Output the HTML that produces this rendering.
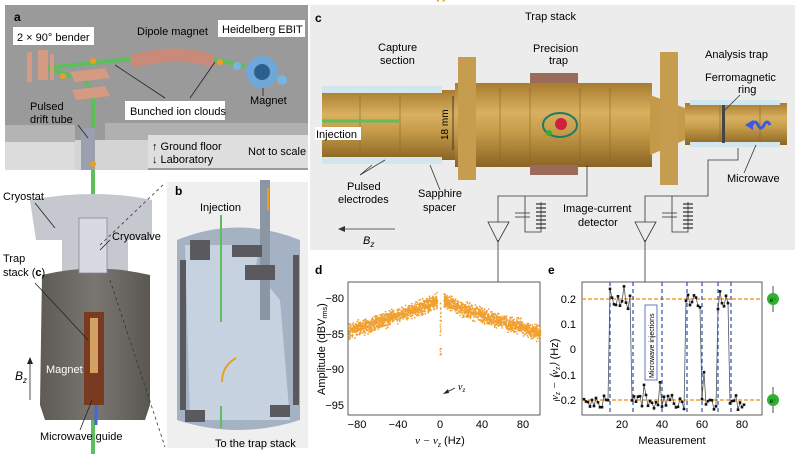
<!DOCTYPE html>
<html><head><meta charset="utf-8"><style>
body{margin:0;background:#fff;}
svg{display:block;font-family:"Liberation Sans",Arial,sans-serif;}
</style></head><body>
<svg id="s" width="798" height="454" viewBox="0 0 798 454" xmlns="http://www.w3.org/2000/svg">
<defs>
<linearGradient id="gold" x1="0" y1="0" x2="0" y2="1"><stop offset="0" stop-color="#a87c30"/><stop offset="0.35" stop-color="#d8b060"/><stop offset="0.6" stop-color="#c49a48"/><stop offset="1" stop-color="#8a6424"/></linearGradient>
<linearGradient id="mag" x1="0" y1="0" x2="1" y2="0"><stop offset="0" stop-color="#5e5a56"/><stop offset="0.5" stop-color="#7a7672"/><stop offset="1" stop-color="#5a5652"/></linearGradient>
</defs>
<!-- panel a top -->
<rect x="5" y="5" width="303" height="165" fill="#9a9a9a"/>
<polygon points="5,125 75,125 75,142 5,142" fill="#b4b4b4"/>
<rect x="5" y="142" width="70" height="28" fill="#dcdcdc"/>
<polygon points="105,123 308,123 308,135 148,135 148,170 120,170 105,140" fill="#b0b0b0"/>
<rect x="148" y="135" width="160" height="33" fill="#dedede"/>
<rect x="75" y="140" width="73" height="30" fill="#d4d4d4"/>
<!-- beamline -->
<g stroke="#5cbf5c" stroke-width="4" fill="none">
<polyline points="45,68 140,58"/><polyline points="45,68 85,80 93,95 93,454"/>
<polyline points="207,58 245,66"/>
</g>
<path d="M130,55 Q175,42 215,55 L213,67 Q175,56 133,68Z" fill="#c98a7a"/>
<rect x="27" y="52" width="5" height="30" fill="#d49a82"/><rect x="38" y="50" width="10" height="30" fill="#d49a82"/><rect x="50" y="54" width="4" height="26" fill="#d49a82"/>
<polygon points="70,72 105,68 110,78 75,82" fill="#d49a82"/><polygon points="72,90 105,86 110,96 76,100" fill="#d49a82"/>
<circle cx="262" cy="72" r="16" fill="#6ea8d8"/><circle cx="262" cy="72" r="8" fill="#2c5f8a"/><circle cx="282" cy="80" r="5" fill="#7ab4e0"/><circle cx="237" cy="66" r="4" fill="#7ab4e0"/>
<rect x="81" y="128" width="14" height="42" fill="#9aa0b0"/>
<g fill="#e8a020"><circle cx="93" cy="61" r="3"/><circle cx="63" cy="76" r="3"/><circle cx="220" cy="62" r="3"/><circle cx="93" cy="164" r="3"/></g>
<g stroke="#222" stroke-width="0.8"><line x1="115" y1="65" x2="165" y2="98"/><line x1="215" y1="62" x2="190" y2="98"/><line x1="78" y1="125" x2="88" y2="138"/><line x1="263" y1="88" x2="263" y2="96"/></g>
<text x="14" y="21" font-size="12" font-weight="bold">a</text>
<rect x="13" y="27" width="81" height="18" fill="#fff"/><text x="17" y="41" font-size="11">2 × 90° bender</text>
<rect x="218" y="20" width="87" height="17" fill="#fff"/><text x="222" y="33" font-size="11">Heidelberg EBIT</text>
<text x="137" y="35" font-size="11">Dipole magnet</text>
<rect x="125" y="101" width="100" height="19" fill="#fff"/><text x="130" y="115" font-size="11">Bunched ion clouds</text>
<text x="250" y="104" font-size="11">Magnet</text>
<text x="30" y="110" font-size="11">Pulsed</text><text x="30" y="123" font-size="11">drift tube</text>
<text x="152" y="150" font-size="11">↑ Ground floor</text><text x="152" y="163" font-size="11">↓ Laboratory</text>
<text x="248" y="155" font-size="11">Not to scale</text>
<!-- cryostat -->
<path d="M30,200 Q95,188 152,200 L152,240 L128,240 L128,275 L62,275 L62,240 L36,240Z" fill="#c6c8d0"/>
<path d="M42,275 Q95,262 150,275 L150,405 L145,420 L45,420 L40,405Z" fill="url(#mag)"/>
<rect x="84" y="312" width="20" height="93" fill="#7a3a22"/><rect x="90" y="318" width="8" height="55" fill="#d2a060"/>
<rect x="79" y="218" width="28" height="55" fill="#d8dae2" stroke="#889" stroke-width="0.8"/>
<g stroke="#4466dd" stroke-width="3"><line x1="96" y1="405" x2="96" y2="425"/></g>
<g stroke="#222" stroke-width="0.8"><line x1="35" y1="203" x2="55" y2="228"/><line x1="110" y1="240" x2="100" y2="250"/><line x1="35" y1="283" x2="88" y2="340"/><line x1="80" y1="430" x2="92" y2="400"/><line x1="30" y1="360" x2="30" y2="400"/></g>
<polygon points="27,364 30,357 33,364" fill="#222"/>
<text x="3" y="200" font-size="11">Cryostat</text><text x="112" y="240" font-size="11">Cryovalve</text>
<text x="3" y="262" font-size="11">Trap</text><text x="3" y="276" font-size="11">stack (<tspan font-weight="bold">c</tspan>)</text>
<text x="15" y="380" font-size="12" font-style="italic">B<tspan font-size="8" dy="3">z</tspan></text>
<text x="46" y="373" font-size="11" fill="#fff">Magnet</text>
<text x="40" y="440" font-size="11">Microwave guide</text>
<g stroke="#333" stroke-width="0.8" stroke-dasharray="3,3"><line x1="100" y1="245" x2="165" y2="183"/><line x1="110" y1="280" x2="165" y2="447"/></g>
<!-- panel b -->
<rect x="167" y="182" width="141" height="266" fill="#efefef"/>
<path d="M177,240 Q238,215 300,240 L300,420 Q238,440 177,420Z" fill="#a4b2c4"/>
<path d="M185,245 L260,245 L255,270 L280,300 L290,420 L190,420Z" fill="#c6d2e0"/>
<rect x="260" y="180" width="10" height="140" fill="#8a96a4"/>
<g fill="#5a5a5e"><rect x="190" y="240" width="20" height="20"/><rect x="232" y="245" width="30" height="12"/><rect x="245" y="265" width="30" height="15"/><rect x="185" y="410" width="20" height="12"/><rect x="270" y="405" width="20" height="12"/><rect x="180" y="260" width="6" height="150"/><rect x="293" y="255" width="6" height="150"/></g>
<g stroke="#5cbf5c" stroke-width="2"><line x1="221" y1="215" x2="221" y2="322"/><line x1="221" y1="406" x2="221" y2="428"/></g>
<path d="M236,358 Q222,366 222,382" stroke="#e8a020" stroke-width="2" fill="none"/>
<line x1="268" y1="188" x2="268" y2="210" stroke="#e8a020" stroke-width="2"/>
<text x="175" y="195" font-size="12" font-weight="bold">b</text>
<text x="200" y="211" font-size="11">Injection</text>
<text x="215" y="447" font-size="11">To the trap stack</text>
<!-- panel c -->
<rect x="310" y="5" width="485" height="245" fill="#ececec"/>
<rect x="322" y="90" width="135" height="70" fill="url(#gold)"/>
<rect x="455" y="83" width="197" height="84" fill="url(#gold)"/>
<polygon points="650,95 685,108 685,140 650,155" fill="#c49a48"/>
<rect x="685" y="103" width="102" height="42" fill="url(#gold)"/>
<rect x="458" y="57" width="18" height="123" fill="#c69c4e"/><rect x="660" y="52" width="18" height="133" fill="#c69c4e"/>
<g fill="#d2e6ee"><rect x="322" y="86" width="120" height="7"/><rect x="322" y="157" width="120" height="7"/><rect x="690" y="100" width="90" height="5"/><rect x="690" y="142" width="90" height="5"/></g>
<g fill="#9a6a5a"><rect x="530" y="73" width="48" height="10"/><rect x="530" y="165" width="48" height="10"/></g>
<g stroke="#8a6424" stroke-width="0.6"><line x1="360" y1="95" x2="360" y2="155"/><line x1="400" y1="95" x2="400" y2="155"/><line x1="500" y1="88" x2="500" y2="162"/><line x1="530" y1="88" x2="530" y2="162"/><line x1="580" y1="88" x2="580" y2="162"/><line x1="610" y1="88" x2="610" y2="162"/><line x1="720" y1="106" x2="720" y2="142"/><line x1="760" y1="106" x2="760" y2="142"/></g>
<ellipse cx="560" cy="125" rx="17" ry="12" fill="none" stroke="#1e7a6a" stroke-width="2"/>
<circle cx="561" cy="124" r="6" fill="#d02040"/><circle cx="549" cy="133" r="3" fill="#30b030"/>
<line x1="322" y1="121" x2="400" y2="121" stroke="#5cbf5c" stroke-width="3"/>
<line x1="453" y1="96" x2="453" y2="150" stroke="#222" stroke-width="0.8"/>
<path d="M745,125 l8,-5 v10z" fill="#3a5ae0"/><path d="M752,125 q3,-6 6,0 q3,6 6,0 q3,-6 6,0" stroke="#3a5ae0" stroke-width="3" fill="none"/>
<rect x="722" y="105" width="3" height="38" fill="#444"/>
<g stroke="#333" stroke-width="0.8" fill="none">
<line x1="360" y1="175" x2="372" y2="165"/><line x1="360" y1="175" x2="385" y2="160"/><line x1="440" y1="190" x2="430" y2="165"/>
<line x1="744" y1="173" x2="756" y2="145"/><line x1="740" y1="95" x2="725" y2="110"/>
<polyline points="587,165 587,196 498,196 498,222"/><line x1="498" y1="240" x2="498" y2="282"/>
<polyline points="525,196 525,232 541,232 541,202"/><line x1="515" y1="213" x2="530" y2="213"/><line x1="515" y1="217" x2="530" y2="217"/>
<polyline points="738,148 738,160 708,160 708,196 645,196 645,222"/><line x1="645" y1="240" x2="645" y2="282"/>
<polyline points="672,196 672,232 688,232 688,202"/><line x1="662" y1="213" x2="677" y2="213"/><line x1="662" y1="217" x2="677" y2="217"/>
<polygon points="488,222 509,222 498,242"/><polygon points="635,222 656,222 645,242"/>
<line x1="340" y1="229" x2="395" y2="229"/>
</g>
<g stroke="#333" stroke-width="1.2" fill="none"><path d="M536,204 h10 M536,208 h10 M536,212 h10 M536,216 h10 M536,220 h10 M536,224 h10 M536,228 h10"/><path d="M683,204 h10 M683,208 h10 M683,212 h10 M683,216 h10 M683,220 h10 M683,224 h10 M683,228 h10"/></g>
<polygon points="338,229 345,226 345,232" fill="#333"/>
<text x="315" y="22" font-size="12" font-weight="bold">c</text>
<text x="525" y="20" font-size="11">Trap stack</text>
<text x="378" y="51" font-size="11">Capture</text><text x="380" y="64" font-size="11">section</text>
<text x="533" y="52" font-size="11">Precision</text><text x="549" y="64" font-size="11">trap</text>
<text x="705" y="58" font-size="11">Analysis trap</text>
<text x="705" y="81" font-size="11">Ferromagnetic</text><text x="738" y="93" font-size="11">ring</text>
<rect x="315" y="127" width="46" height="13" fill="#fff"/><text x="316" y="138" font-size="11">Injection</text>
<text x="0" y="0" font-size="10" transform="translate(448,140) rotate(-90)">18 mm</text>
<text x="347" y="190" font-size="11">Pulsed</text><text x="338" y="203" font-size="11">electrodes</text>
<text x="418" y="197" font-size="11">Sapphire</text><text x="423" y="211" font-size="11">spacer</text>
<text x="563" y="212" font-size="11">Image-current</text><text x="578" y="226" font-size="11">detector</text>
<text x="727" y="182" font-size="11">Microwave</text>
<text x="363" y="244" font-size="11" font-style="italic">B<tspan font-size="8" dy="3">z</tspan></text>
<!-- panel d -->
<text x="315" y="274" font-size="12" font-weight="bold">d</text>
<rect x="348" y="282" width="192" height="133" fill="#fff" stroke="#333" stroke-width="0.8"/>
<g id="dots" fill="#f0a030"></g>
<g font-size="11" text-anchor="end"><text x="344" y="302">−80</text><text x="344" y="338">−85</text><text x="344" y="373">−90</text><text x="344" y="409">−95</text></g>
<g font-size="11" text-anchor="middle"><text x="357" y="428">−80</text><text x="398" y="428">−40</text><text x="440" y="428">0</text><text x="482" y="428">40</text><text x="523" y="428">80</text></g>
<text x="440" y="444" font-size="11" text-anchor="middle"><tspan font-style="italic" font-family="Liberation Serif">ν − ν<tspan font-size="8" dy="3">z</tspan></tspan><tspan dy="-3"> (Hz)</tspan></text>
<text transform="translate(325,395) rotate(-90)" font-size="11">Amplitude (dBV<tspan font-size="7" dy="2">rms</tspan><tspan dy="-2">)</tspan></text>
<line x1="445" y1="393" x2="455" y2="388" stroke="#222" stroke-width="0.8"/><polygon points="443,394 448,389 449,393" fill="#222"/>
<text x="458" y="390" font-size="10" font-style="italic" font-family="Liberation Serif">ν<tspan font-size="7" dy="2">z</tspan></text>
<!-- panel e -->
<text x="548" y="274" font-size="12" font-weight="bold">e</text>
<rect x="582" y="282" width="180" height="133" fill="#fff" stroke="#333" stroke-width="0.8"/>
<g stroke="#f0a030" stroke-width="1.5" stroke-dasharray="4,2"><line x1="582" y1="299" x2="762" y2="299"/><line x1="582" y1="400" x2="762" y2="400"/></g>
<g stroke="#3a5ab0" stroke-width="1.3" stroke-dasharray="4,3"><line x1="610" y1="282" x2="610" y2="415"/><line x1="633" y1="282" x2="633" y2="415"/><line x1="662" y1="282" x2="662" y2="415"/><line x1="687" y1="282" x2="687" y2="415"/><line x1="702" y1="282" x2="702" y2="415"/><line x1="718" y1="282" x2="718" y2="415"/><line x1="731" y1="282" x2="731" y2="415"/></g>
<rect x="645" y="305" width="12" height="75" fill="#fff" stroke="#3a5ab0" stroke-width="0.8"/>
<text transform="translate(654,378) rotate(-90)" font-size="7">Microwave injections</text>
<polyline id="eline" fill="none" stroke="#555" stroke-width="0.8"/>
<g id="edots" fill="#111"></g>
<g font-size="11" text-anchor="end"><text x="576" y="303">0.2</text><text x="576" y="328">0.1</text><text x="576" y="353">0</text><text x="576" y="379">−0.1</text><text x="576" y="404">−0.2</text></g>
<g font-size="11" text-anchor="middle"><text x="622" y="428">20</text><text x="662" y="428">40</text><text x="702" y="428">60</text><text x="742" y="428">80</text></g>
<text x="672" y="444" font-size="11" text-anchor="middle">Measurement</text>
<text transform="translate(558,400) rotate(-90)" font-size="11"><tspan font-style="italic" font-family="Liberation Serif">ν<tspan font-size="8" dy="2">z</tspan><tspan dy="-2"> − ⟨ν</tspan><tspan font-size="8" dy="2">z</tspan><tspan dy="-2">⟩</tspan></tspan> (Hz)</text>
<circle cx="773" cy="299" r="6" fill="#30b030"/><circle cx="773" cy="400" r="6" fill="#30b030"/>
<g stroke="#222" stroke-width="0.8"><line x1="773" y1="286" x2="773" y2="293"/><line x1="773" y1="305" x2="773" y2="312"/><line x1="773" y1="387" x2="773" y2="394"/><line x1="773" y1="406" x2="773" y2="413"/></g>
<text x="773" y="302" font-size="6" text-anchor="middle">e⁻</text><text x="773" y="403" font-size="6" text-anchor="middle">e⁻</text>
</svg>
<script>
var seed=7;function r(){seed=(seed*16807)%2147483647;return seed/2147483647;}
var g=document.getElementById("dots"),h="";
for(var i=0;i<2200;i++){var x=-88+r()*184;if(Math.abs(x)<2.5)continue;var a=Math.abs(x);
var A=-80.3-7.6*Math.pow((a-3)/90,0.85)+(r()+r()+r()-1.5)*1.6;
var px=440+x*1.04,py=298-(A+80)*4.28;h+='<rect x="'+px.toFixed(1)+'" y="'+py.toFixed(1)+'" width="1.5" height="1.5"/>';}
for(var j=0;j<25;j++){var A2=-81-r()*12.5;h+='<rect x="'+(439.5+r()).toFixed(1)+'" y="'+(298-(A2+80)*4.28).toFixed(1)+'" width="1.4" height="1.4"/>';}
g.innerHTML=h;
var pts=[],eh="";
var hi=[[14,25],[52,60],[68,74]];
for(var m=1;m<=81;m++){var up=false;for(var k=0;k<3;k++)if(m>=hi[k][0]&&m<hi[k][1])up=true;
var v=(up?0.19:-0.21)+(r()-0.5)*0.06;if(m==14)v=0.24;if(m==21)v=0.25;if(m==31)v=-0.14;if(m==39)v=-0.13;if(m==61)v=-0.09;if(m==69)v=0.23;
var X=582+m*2,Y=349.5-v*252.5;pts.push(X+","+Y.toFixed(1));eh+='<rect x="'+(X-1.3)+'" y="'+(Y-1.3).toFixed(1)+'" width="2.6" height="2.6"/>';}
document.getElementById("eline").setAttribute("points",pts.join(" "));
document.getElementById("edots").innerHTML=eh;
</script>
</body></html>
